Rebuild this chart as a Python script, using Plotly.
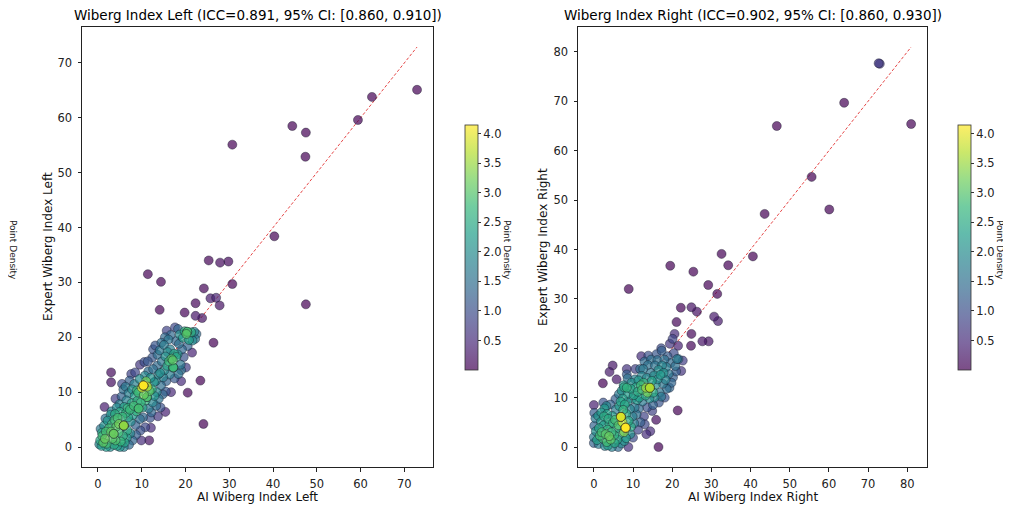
import numpy as np
import plotly.graph_objects as go
from plotly.colors import sequential, hex_to_rgb

# ---------------- data: left side (AI vs expert) ----------------
left_ai = [
    # outliers
    72.9, 62.6, 59.4, 44.4, 47.5, 30.7, 47.4, 40.3, 47.5, 25.3, 27.9, 29.8,
    11.4, 14.4, 30.7, 24.2, 25.7, 27.0, 27.8, 14.1, 22.3, 19.8, 23.8, 22.3,
    26.4, 23.4, 20.5, 24.1, 3.0, 3.0, 1.5, 12.6, 9.6, 4.0, 15.7, 19.0,
    # cluster
    0.3, 0.5, 0.8, 1.0, 0.6, 1.2, 0.9, 1.4,
    1.6, 1.8, 2.0, 2.2, 1.7, 2.5, 1.9,
    2.8, 3.0, 3.2, 2.9, 3.3, 3.1, 3.7,
    3.6, 3.6, 3.8, 4.0, 4.2, 3.9, 4.3, 4.4, 4.5,
    4.7, 4.8, 5.0, 5.2, 4.9, 5.4, 5.0,
    5.6, 5.9, 5.9, 5.9, 5.9, 5.7, 6.0, 5.8, 6.1, 5.5, 5.9,
    6.4, 6.5, 6.7, 6.9, 6.6, 7.0, 6.8, 6.3, 7.1,
    7.3, 7.5, 7.7, 7.4, 7.8, 7.6, 8.0, 7.9, 7.2,
    8.2, 8.4, 8.6, 8.8, 8.3, 8.7, 9.0, 8.5, 8.9,
    9.3, 9.3, 9.2, 9.5, 9.6, 9.8, 9.7, 10.0, 9.9,
    10.4, 10.4, 10.4, 10.4, 10.2, 10.5, 10.7, 10.3, 10.9, 10.6, 11.0, 10.8,
    11.2, 11.2, 11.3, 11.5, 11.6, 11.8, 11.4, 11.9, 11.7, 12.0,
    12.3, 12.5, 12.6, 12.2, 12.8, 12.4, 12.9, 12.1,
    13.2, 13.4, 13.5, 13.3, 13.8, 13.6, 13.9, 13.1, 13.7,
    14.2, 14.4, 14.6, 14.1, 14.8, 14.5, 14.9, 14.3,
    15.2, 15.4, 15.6, 15.1, 15.8, 15.5, 15.3, 15.9, 15.4,
    16.2, 16.4, 16.5, 16.7, 16.1, 16.8, 16.6,
    17.2, 17.2, 17.2, 17.4, 17.5, 17.8, 17.6, 17.1, 17.9,
    18.2, 18.4, 18.5, 18.7, 18.3, 18.9,
    19.2, 19.4, 19.6, 19.8, 19.0,
    20.2, 20.4, 20.4, 20.5, 20.8, 20.1,
    21.3, 21.6, 22.0, 22.2, 21.5, 22.5,
]
left_expert = [
    65.1, 63.8, 59.6, 58.5, 57.3, 55.1, 52.9, 38.4, 26.0, 34.0, 33.6, 33.8,
    31.5, 30.1, 29.7, 28.9, 27.1, 27.2, 25.8, 25.0, 26.2, 24.5, 23.5, 23.9,
    19.0, 12.1, 9.9, 4.2, 13.6, 11.8, 7.3, 17.8, 15.0, 8.8, 21.2, 14.0,
    0.5, 1.2, 0.2, 2.0, 3.3, 0.8, 2.6, 3.9,
    1.5, 2.8, 0.6, 4.8, 5.2, 3.4, 0.0,
    0.0, 2.8, 4.2, 5.9, 1.5, 6.5, 0.4,
    2.4, 2.4, 4.9, 1.2, 3.7, 6.0, 7.2, 0.2, 5.3,
    2.6, 4.2, 6.4, 1.0, 7.8, 9.2, 0.0,
    5.5, 3.9, 3.9, 3.9, 3.9, 2.0, 7.3, 10.5, 0.8, 11.5, 0.0,
    6.2, 8.5, 3.0, 5.4, 1.7, 9.8, 7.1, 11.0, 0.4,
    6.8, 4.6, 8.0, 2.5, 10.5, 13.3, 5.8, 1.2, 12.1,
    7.5, 9.3, 4.0, 6.5, 11.5, 2.2, 8.4, 13.6, 10.3,
    7.0, 7.0, 9.9, 12.4, 5.1, 8.1, 3.0, 10.8, 1.2,
    11.2, 11.2, 11.2, 11.2, 7.2, 9.5, 13.0, 5.4, 8.5, 15.5, 12.0, 3.6,
    9.1, 9.1, 11.0, 13.8, 7.0, 10.2, 15.6, 5.3, 1.2, 12.6,
    10.5, 8.1, 14.2, 6.3, 11.8, 16.3, 9.3, 3.5,
    12.0, 10.0, 14.8, 7.5, 13.2, 16.8, 8.8, 18.5, 5.6,
    13.5, 11.2, 15.6, 17.6, 9.6, 19.0, 12.7, 7.2,
    14.0, 16.5, 12.0, 18.6, 14.8, 10.1, 20.0, 17.3, 6.4,
    15.6, 13.2, 17.8, 10.0, 19.6, 16.1, 20.4,
    14.5, 14.5, 14.5, 17.0, 12.5, 19.3, 21.8, 15.8, 16.4,
    16.9, 13.3, 18.8, 20.5, 21.5, 15.0,
    17.8, 19.9, 16.4, 21.1, 12.0,
    20.6, 21.0, 21.0, 18.4, 19.5, 14.5,
    20.9, 19.4, 21.0, 19.7, 17.2, 20.6,
]

# ---------------- data: right side ----------------
right_ai = [
    # outliers
    72.7, 73.0, 63.9, 46.7, 81.0, 55.6, 60.1, 43.6, 32.6, 40.6, 19.5, 25.4,
    34.3, 29.2, 31.5, 8.9, 22.2, 24.9, 26.3, 30.7, 31.7, 21.1, 24.9, 27.7,
    29.3, 24.8, 21.4, 16.5, 0.0, 2.3, 2.4, 4.0, 4.8, 5.8, 7.7, 8.4, 12.1, 17.2,
    # cluster
    0.0, 0.0, 0.5, 0.1, 0.4, 0.8, 0.1,
    1.2, 1.5, 1.3, 1.8, 1.1, 2.0, 1.9,
    2.3, 2.5, 2.8, 2.6, 3.0, 2.7,
    3.3, 3.5, 3.7, 3.2, 3.9, 3.6, 4.0, 3.4,
    4.3, 4.5, 4.7, 4.2, 4.9, 4.6,
    5.2, 5.4, 5.6, 5.3, 5.8, 5.5, 6.0,
    6.2, 6.3, 6.5, 6.9, 6.9, 6.9, 6.9, 6.6, 6.4, 6.8, 7.0,
    7.1, 7.3, 7.5, 7.7, 7.4, 7.8, 7.9, 7.6,
    8.1, 8.1, 8.1, 8.1, 8.4, 8.3, 8.5, 8.7, 8.8, 8.2, 8.9, 8.4, 8.6,
    9.2, 9.4, 9.5, 9.8, 9.6, 9.3, 10.0, 9.9,
    10.2, 10.5, 10.4, 10.7, 10.6, 10.3, 10.9, 11.0,
    11.2, 11.4, 11.5, 11.8, 11.6, 11.9, 11.3, 12.0,
    12.2, 12.4, 12.6, 12.3, 12.8, 12.7, 13.0, 12.9,
    13.2, 13.4, 13.5, 13.3, 13.8, 13.6, 13.9, 13.7,
    14.3, 14.3, 14.3, 14.5, 14.2, 14.8, 14.6, 14.9, 14.4,
    15.2, 15.4, 15.6, 15.1, 15.8, 16.0, 15.5, 15.9,
    16.3, 16.5, 16.8, 16.2, 16.6, 17.0,
    17.3, 17.4, 17.6, 17.8, 17.2, 18.0,
    18.1, 18.3, 18.5, 18.8, 18.6,
    19.1, 19.4, 19.6, 19.8, 19.3,
    20.2, 20.4, 20.6, 20.8, 20.1,
    21.2, 21.5, 21.0, 21.6,
    22.3, 22.7,
]
right_expert = [
    77.7, 77.6, 69.7, 65.0, 65.4, 54.7, 48.1, 47.2, 39.1, 38.6, 36.7, 35.5,
    36.8, 32.8, 31.0, 32.0, 28.2, 28.3, 27.4, 26.4, 25.5, 25.3, 22.9, 21.4,
    21.4, 20.5, 7.4, 0.0, 8.5, 12.9, 9.0, 15.2, 16.5, 13.7, 12.1, 14.7, 18.4, 20.0,
    0.8, 2.0, 3.2, 4.3, 5.8, 1.4, 6.9,
    0.6, 2.3, 3.8, 5.1, 6.3, 3.0, 7.0,
    1.7, 4.4, 0.2, 6.2, 2.6, 7.8,
    1.0, 3.5, 5.7, 8.3, 2.2, 0.3, 4.6, 6.7,
    1.5, 3.0, 6.3, 8.6, 4.9, 0.0,
    2.4, 5.5, 7.6, 0.8, 3.8, 9.7, 1.5,
    0.0, 4.4, 8.3, 6.1, 6.1, 6.1, 6.1, 2.6, 10.7, 9.2, 0.7,
    11.4, 5.0, 7.5, 3.0, 9.8, 1.2, 8.6, 12.5,
    3.9, 3.9, 3.9, 3.9, 12.0, 6.7, 9.1, 10.8, 0.0, 1.8, 5.3, 15.8, 13.9,
    7.7, 11.8, 4.1, 9.8, 13.0, 2.6, 1.9, 6.2,
    10.5, 13.7, 8.0, 12.1, 15.8, 4.8, 6.6, 9.5,
    11.2, 13.5, 7.8, 15.8, 10.0, 5.0, 3.5, 12.5,
    14.4, 9.2, 15.8, 11.6, 6.2, 13.0, 4.6, 17.3,
    10.4, 2.6, 14.0, 12.0, 16.6, 8.0, 18.5, 11.0,
    12.0, 12.0, 12.0, 15.0, 9.8, 13.4, 17.7, 7.3, 3.2,
    11.0, 14.5, 16.5, 8.5, 12.6, 18.8, 10.0, 5.5,
    13.7, 15.6, 11.0, 17.6, 9.0, 14.6,
    19.5, 16.5, 12.8, 15.0, 10.2, 17.7,
    10.0, 13.6, 16.2, 18.4, 11.8,
    14.8, 20.9, 17.0, 13.0, 12.0,
    14.1, 19.0, 22.9, 16.4, 21.9,
    17.8, 20.5, 15.3, 17.8,
    15.4, 17.5,
]

titles = [
    "Wiberg Index Left (ICC=0.891, 95% CI: [0.860, 0.910])",
    "Wiberg Index Right (ICC=0.902, 95% CI: [0.860, 0.930])",
]
x_labels = ["AI Wiberg Index Left", "AI Wiberg Index Right"]
y_labels = ["Expert Wiberg Index Left", "Expert Wiberg Index Right"]
cbar_ticks = [0.5, 1.0, 1.5, 2.0, 2.5, 3.0, 3.5, 4.0]
DENSITY_MAX = 4.15      # top of the colour bar
BANDWIDTH = 1.0         # kernel width (data units) for the density colouring
ALPHA = 0.7

# viridis with the scatter's transparency baked in (so the colour bar shows it too)
_vir = sequential.Viridis
VIRIDIS_ALPHA = [
    [k / (len(_vir) - 1), "rgba(%d,%d,%d,%.2f)" % (*hex_to_rgb(h), ALPHA)]
    for k, h in enumerate(_vir)
]


def point_density(x, y):
    x = np.asarray(x, float)
    y = np.asarray(y, float)
    d2 = (x[:, None] - x[None, :]) ** 2 + (y[:, None] - y[None, :]) ** 2
    k = np.exp(-d2 / (2 * BANDWIDTH ** 2))
    np.fill_diagonal(k, 0.0)
    dens = k.sum(axis=1)
    return dens / dens.max() * DENSITY_MAX


W, H = 1011, 512
OFF = 8  # page body margin: the figure is drawn 8px in from the window corner


def fx(px):
    return (px - OFF) / W


def fy(py):
    return (H - (py - OFF)) / H


fig = go.Figure()

panels = [
    dict(x=left_ai, y=left_expert, dom=(82, 433), cbx=455,
         ytitle_px=48, pd_px=[13, 507], tick_top=70),
    dict(x=right_ai, y=right_expert, dom=(578, 927), cbx=948,
         ytitle_px=543, pd_px=[1000], tick_top=80),
]

top_px, bot_px = 27, 467
annotations = []
for i, p in enumerate(panels):
    suffix = "" if i == 0 else "2"
    xa, ya = "x" + suffix, "y" + suffix
    x = np.asarray(p["x"], float)
    y = np.asarray(p["y"], float)
    c = point_density(x, y)
    order = np.argsort(c)
    x, y, c = x[order], y[order], c[order]

    lo = min(x.min(), y.min())
    hi = max(x.max(), y.max())
    pad = (hi - lo) * 0.05
    rng = [lo - pad, hi + pad]

    fig.add_trace(go.Scatter(
        x=[lo, hi], y=[lo, hi], mode="lines",
        line=dict(color="rgba(225,40,40,0.85)", width=1, dash="3px,2px"),
        xaxis=xa, yaxis=ya, showlegend=False, hoverinfo="skip",
    ))
    fig.add_trace(go.Scatter(
        x=x, y=y, mode="markers", xaxis=xa, yaxis=ya, showlegend=False,
        marker=dict(
            size=9, color=c, colorscale=VIRIDIS_ALPHA,
            cmin=float(c.min()), cmax=float(c.max()),
            line=dict(color="rgba(20,20,40,0.75)", width=0.55),
            colorbar=dict(
                x=fx(p["cbx"]), xanchor="left", xref="paper",
                y=fy((115 + 380) / 2), yanchor="middle",
                len=265 / H, lenmode="fraction", thickness=13,
                outlinecolor="#333", outlinewidth=0.8,
                ticks="outside", ticklen=3, tickcolor="#333",
                tickvals=cbar_ticks,
                ticktext=[f"{t:.1f}" for t in cbar_ticks],
                tickfont=dict(size=11.5, color="#222"),
            ),
        ),
    ))

    ax_common = dict(
        showgrid=False, zeroline=False, showline=True, mirror=True,
        linecolor="#222", linewidth=1, ticks="outside", ticklen=3.5,
        tickcolor="#222", tickfont=dict(size=11.5, color="#222"),
        ticklabelstandoff=3,
        range=rng, tickmode="array",
        tickvals=list(range(0, p["tick_top"] + 1, 10)),
    )
    fig.update_layout({
        "xaxis" + suffix: dict(ax_common, domain=[fx(p["dom"][0]), fx(p["dom"][1])],
                               anchor=ya),
        "yaxis" + suffix: dict(ax_common, domain=[fy(bot_px), fy(top_px)],
                               anchor=xa),
    })

    cx = fx((p["dom"][0] + p["dom"][1]) / 2)
    annotations.append(dict(text=titles[i], x=cx, y=fy(15), xref="paper", yref="paper",
                            showarrow=False, font=dict(size=13.5, color="#000"),
                            xanchor="center", yanchor="middle"))
    annotations.append(dict(text=x_labels[i], x=cx, y=fy(497), xref="paper", yref="paper",
                            showarrow=False, font=dict(size=12, color="#111"),
                            xanchor="center", yanchor="middle"))
    annotations.append(dict(text=y_labels[i], x=fx(p["ytitle_px"]), y=fy(247),
                            xref="paper", yref="paper", textangle=-90,
                            showarrow=False, font=dict(size=12, color="#111"),
                            xanchor="center", yanchor="middle"))
    for px in p["pd_px"]:
        annotations.append(dict(text="Point Density", x=fx(px), y=fy(250),
                                xref="paper", yref="paper", textangle=90,
                                showarrow=False, font=dict(size=9, color="#222"),
                                xanchor="center", yanchor="middle"))

fig.update_layout(
    width=W, height=H, margin=dict(l=0, r=0, t=0, b=0),
    paper_bgcolor="white", plot_bgcolor="white",
    font=dict(family="DejaVu Sans", color="#222"),
    annotations=annotations,
)

fig.write_html("out.html")
